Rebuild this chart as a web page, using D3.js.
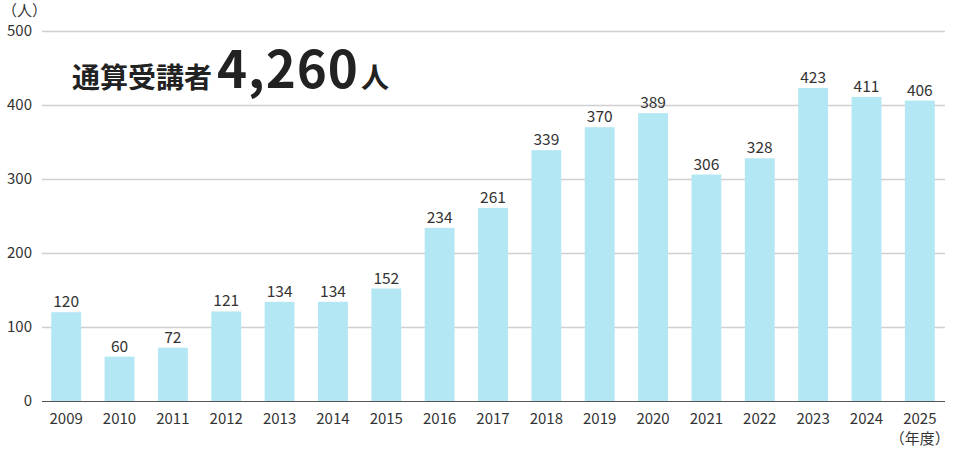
<!DOCTYPE html>
<html>
<head>
<meta charset="utf-8">
<script src="https://cdn.jsdelivr.net/npm/d3@7"></script>
<style>
  body { margin: 0; background: #fff; }
  text { font-family: "Noto Sans CJK JP", "Noto Sans", sans-serif; }
</style>
</head>
<body>
<svg id="chart"></svg>
<script>
// data
const years = ["2009", "2010", "2011", "2012", "2013", "2014", "2015", "2016", "2017",
  "2018", "2019", "2020", "2021", "2022", "2023", "2024", "2025"];
const students = [120, 60, 72, 121, 134, 134, 152, 234, 261, 339, 370, 389, 306, 328, 423, 411, 406];
const yTicks = [0, 100, 200, 300, 400, 500];
const totalLabel = "4,260";

const width = 960, height = 450;
const svg = d3.select("#chart").attr("width", width).attr("height", height);

const x = d3.scaleBand().domain(years).range([39.5, 946.5]).paddingInner(0.44).paddingOuter(0.22);
const y = d3.scaleLinear().domain([0, 500]).range([401, 31]);

// grid lines
svg.append("g")
  .selectAll("line")
  .data(yTicks.filter(d => d > 0))
  .join("line")
  .attr("x1", 42).attr("x2", 945)
  .attr("y1", d => y(d) + 0.5).attr("y2", d => y(d) + 0.5)
  .attr("stroke", "#d0d0d0").attr("stroke-width", 1.5);

// y labels
svg.append("g")
  .selectAll("text")
  .data(yTicks)
  .join("text")
  .attr("x", 32).attr("y", d => y(d) + 5)
  .attr("text-anchor", "end")
  .attr("font-size", 15).attr("fill", "#333")
  .text(d => d);

svg.append("text")
  .attr("x", 2).attr("y", 16)
  .attr("font-size", 15).attr("fill", "#333")
  .text("（人）");

// bars
svg.append("g")
  .selectAll("rect")
  .data(students)
  .join("rect")
  .attr("x", (d, i) => x(years[i]))
  .attr("width", x.bandwidth())
  .attr("y", d => y(d))
  .attr("height", d => y(0) - y(d))
  .attr("fill", "#b3e7f3");

// values on top
svg.append("g")
  .selectAll("text")
  .data(students)
  .join("text")
  .attr("x", (d, i) => x(years[i]) + x.bandwidth() / 2)
  .attr("y", d => y(d) - 5)
  .attr("text-anchor", "middle")
  .attr("font-size", 15.5).attr("fill", "#333")
  .text(d => d);

// axis line
svg.append("line")
  .attr("x1", 42).attr("x2", 945)
  .attr("y1", 401.5).attr("y2", 401.5)
  .attr("stroke", "#555").attr("stroke-width", 1.2);

// year labels
svg.append("g")
  .selectAll("text")
  .data(years)
  .join("text")
  .attr("x", d => x(d) + x.bandwidth() / 2)
  .attr("y", 424)
  .attr("text-anchor", "middle")
  .attr("font-size", 15).attr("fill", "#333")
  .text(d => d);

svg.append("text")
  .attr("x", x("2025") + x.bandwidth() / 2)
  .attr("y", 444)
  .attr("text-anchor", "middle")
  .attr("font-size", 15).attr("fill", "#333")
  .text("（年度）");

// total
const title = svg.append("text")
  .attr("x", 72).attr("y", 88)
  .attr("fill", "#222").attr("font-weight", "bold");
title.append("tspan").attr("font-size", 28).text("通算受講者");
title.append("tspan").attr("font-size", 51).attr("dx", 5).attr("letter-spacing", 1).text(totalLabel);
title.append("tspan").attr("font-size", 28).attr("dx", 2).text("人");
</script>
</body>
</html>
